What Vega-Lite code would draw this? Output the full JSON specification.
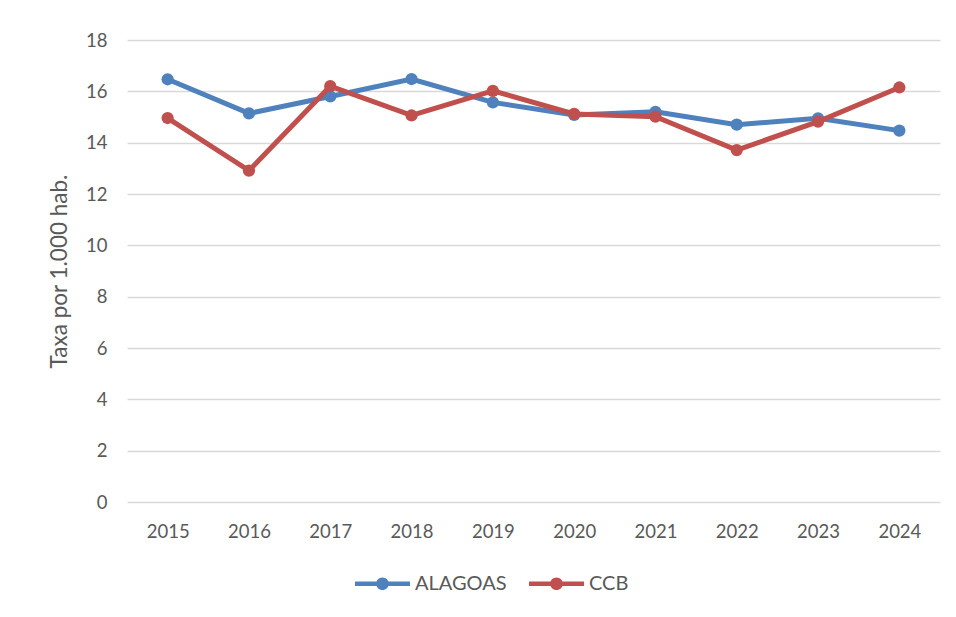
{
  "$schema": "https://vega.github.io/schema/vega-lite/v6.json",
  "width": 813,
  "height": 462,
  "autosize": {"type": "none"},
  "padding": {"left": 127, "top": 40, "right": 16, "bottom": 115},
  "background": "white",
  "config": {
    "font": "Lato",
    "view": {"stroke": null}
  },
  "data": {
    "values": [
      {"ano": "2015", "serie": "ALAGOAS", "taxa": 16.47},
      {"ano": "2016", "serie": "ALAGOAS", "taxa": 15.14},
      {"ano": "2017", "serie": "ALAGOAS", "taxa": 15.8},
      {"ano": "2018", "serie": "ALAGOAS", "taxa": 16.48},
      {"ano": "2019", "serie": "ALAGOAS", "taxa": 15.57},
      {"ano": "2020", "serie": "ALAGOAS", "taxa": 15.08},
      {"ano": "2021", "serie": "ALAGOAS", "taxa": 15.2},
      {"ano": "2022", "serie": "ALAGOAS", "taxa": 14.7},
      {"ano": "2023", "serie": "ALAGOAS", "taxa": 14.95},
      {"ano": "2024", "serie": "ALAGOAS", "taxa": 14.47},
      {"ano": "2015", "serie": "CCB", "taxa": 14.96},
      {"ano": "2016", "serie": "CCB", "taxa": 12.91},
      {"ano": "2017", "serie": "CCB", "taxa": 16.2},
      {"ano": "2018", "serie": "CCB", "taxa": 15.06},
      {"ano": "2019", "serie": "CCB", "taxa": 16.02},
      {"ano": "2020", "serie": "CCB", "taxa": 15.12},
      {"ano": "2021", "serie": "CCB", "taxa": 15.01},
      {"ano": "2022", "serie": "CCB", "taxa": 13.71},
      {"ano": "2023", "serie": "CCB", "taxa": 14.82},
      {"ano": "2024", "serie": "CCB", "taxa": 16.15}
    ]
  },
  "encoding": {
    "x": {
      "field": "ano",
      "type": "ordinal",
      "scale": {"type": "point", "padding": 0.5},
      "axis": {
        "title": null,
        "labelAngle": 0,
        "domain": false,
        "ticks": false,
        "grid": false,
        "labelFontSize": 18.5,
        "labelColor": "#595959",
        "labelPadding": 20
      }
    },
    "y": {
      "field": "taxa",
      "type": "quantitative",
      "scale": {"domain": [0, 18], "nice": false, "zero": true},
      "axis": {
        "values": [0, 2, 4, 6, 8, 10, 12, 14, 16, 18],
        "title": "Taxa por 1.000 hab.",
        "titleFontSize": 22.5,
        "titleFontWeight": "normal",
        "titleColor": "#595959",
        "titlePadding": 14,
        "domain": false,
        "ticks": false,
        "gridColor": "#d9d9d9",
        "gridWidth": 1.5,
        "labelFontSize": 18.5,
        "labelColor": "#595959",
        "labelPadding": 20
      }
    },
    "color": {
      "field": "serie",
      "type": "nominal",
      "scale": {"domain": ["ALAGOAS", "CCB"], "range": ["#4f81bd", "#c0504d"]},
      "legend": {
        "title": null,
        "orient": "none",
        "direction": "horizontal",
        "legendX": 228,
        "legendY": 516,
        "symbolType": "M-1,-0.08 L1,-0.08 L1,0.08 L-1,0.08 Z M0.23,0 A0.23,0.23 0 1,1 -0.23,0 A0.23,0.23 0 1,1 0.23,0 Z",
        "symbolSize": 3025,
        "symbolStrokeWidth": 0,
        "labelFontSize": 20,
        "labelColor": "#595959",
        "labelOffset": 5,
        "columnPadding": 22,
        "encode": {
          "symbols": {
            "update": {
              "fill": {"scale": "color", "field": "value"},
              "fillOpacity": {"value": 1},
              "strokeWidth": {"value": 0}
            }
          }
        }
      }
    }
  },
  "layer": [
    {
      "transform": [{"filter": "datum.serie === 'ALAGOAS'"}],
      "mark": {"type": "line", "strokeWidth": 5, "point": {"size": 150, "filled": true, "opacity": 1}}
    },
    {
      "transform": [{"filter": "datum.serie === 'CCB'"}],
      "mark": {"type": "line", "strokeWidth": 5, "point": {"size": 150, "filled": true, "opacity": 1}}
    }
  ]
}
